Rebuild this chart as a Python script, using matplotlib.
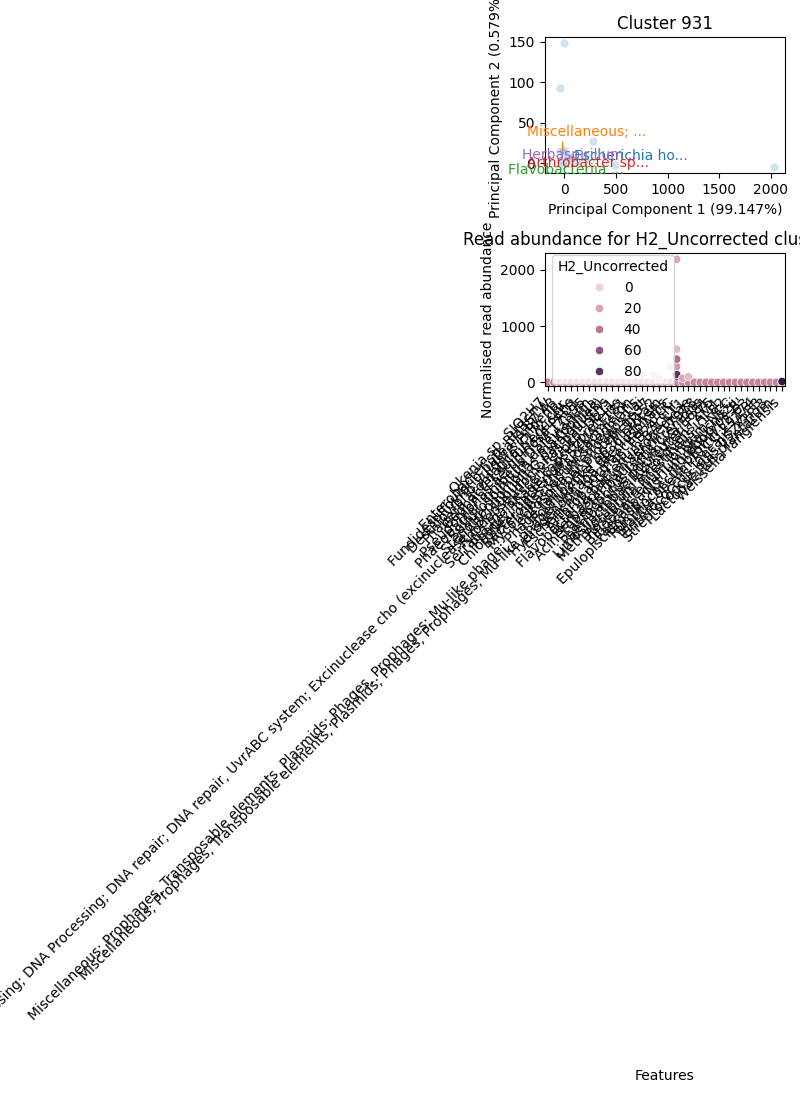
import matplotlib
matplotlib.use("Agg")
import matplotlib.pyplot as plt
import seaborn as sns
import pandas as pd

# ---------------- data: PCA panel ----------------
pc1 = [0, -42, 281, 491, 2032, -42, 0, -15, -30, 20, 60, 120, 200, -10, 40]
pc2 = [148, 93, 27, -2, -5, 15, 16, 14, 4, 2, 6, 3, 5, -2, 9]

annot_texts = ["Escherichia ho...", "Miscellaneous; ...", "Flavobacteriia ...",
               "Arthrobacter sp...", "Herbaspirillum ..."]
annot_colors = ["tab:blue", "tab:orange", "tab:green", "tab:red", "tab:purple"]
annot_x = [648, 215, 16, 230, 170]
annot_y = [9, 38, -8, 0, 10]
misc_point = (-15, 16)

# ---------------- data: abundance panel ----------------
features = [
    "Okenia sp. SIO2H7",
    "Enterobacter sp. RHBSTW",
    "Fundidesulfovibrio putealis B7-43",
    "Desulfovibrio vulgaris Hildenb.",
    "Thauera aromatica K172 chr.",
    "Geobacter sulfurreducens",
    "Pseudomonas aeruginosa PAO1",
    "Phaeobacter inhibens DSM 17395",
    "Sulfurospirillum deleyianum",
    "Stenotrophomonas maltophilia",
    "DNA Processing; DNA Processing; DNA repair; DNA repair, UvrABC system; "
    "Excinuclease cho (excinuclease ABC subunit C paralogues)",
    "Rhodopseudomonas palustris",
    "Serratia marcescens subsp. Db11",
    "Phage; Phage capsid proteins",
    "Chloroflexi bacterium SZUA-1181",
    "Bacteroides thetaiotaomicron",
    "Mycolicibacterium smegmatis",
    "Leptospira interrogans Lai",
    "Miscellaneous; Prophages, Transposable elements, Plasmids; Phages, "
    "Prophages; Mu-like phage; Phage tail fiber protein gp37",
    "Polaribacter sp. MED152",
    "Miscellaneous; Prophages, Transposable elements, Plasmids; Phages, "
    "Prophages; Mu-like phage; Mu-like gp36 protein",
    "Hydrogenophaga taeniospiralis",
    "Escherichia hormaechei ATCC",
    "Arthrobacter sp. FB24 chr.",
    "Flavobacteriia bacterium BACL11",
    "Herbaspirillum seropedicae",
    "Acinetobacter baumannii 17978",
    "Lactococcus lactis cremoris",
    "Paenibacillus polymyxa E681",
    "Limosilactobacillus reuteri F275",
    "Methylorubrum extorquens AM1",
    "Roseburia intestinalis L1-82",
    "Bifidobacterium longum NCC",
    "Faecalibacterium prausnitzii",
    "Epulopiscium sp. 'N.t. morphotype B'",
    "Ruminococcus bromii L2-63",
    "Blautia obeum ATCC 29174",
    "Enterococcus faecalis V583",
    "Streptococcus suis 05ZYH33",
    "Lactobacillus plantarum",
    "Weissella fangiensis",
]

# H2_Uncorrected value of each sample (drawing order)
samples_h2 = [0, 10, 18, 24, 45, 58, 66, 80, 95, 33]

# non-zero abundances: feature index -> {sample H2 value: abundance}
peaks = {
    16: {0: 140},
    18: {0: 130},
    19: {10: 60},
    21: {10: 270},
    22: {24: 280, 10: 590, 45: 413, 66: 100, 80: 140, 18: 2189},
    23: {18: 70},
    24: {10: 100},
    40: {95: 15},
}

# ---------------- build long-form table ----------------
rows = []
for h in samples_h2:
    for i in range(len(features)):
        if i in peaks and h in peaks[i]:
            continue
        rows.append({"idx": i, "value": 0.0, "H2_Uncorrected": h})
for i, d in peaks.items():
    for h, v in d.items():
        rows.append({"idx": i, "value": v, "H2_Uncorrected": h})
df = pd.DataFrame(rows)

# ---------------- figure ----------------
fig = plt.figure(figsize=(8, 11), dpi=100)
ax1 = fig.add_axes([0.68125, 0.84245, 0.3, 0.12364])
ax2 = fig.add_axes([0.68125, 0.64936, 0.3, 0.12036])

# PCA panel
sns.scatterplot(x=pc1, y=pc2, ax=ax1, color="tab:blue", alpha=0.2)
ax1.set_xlim(-187, 2137)
ax1.set_ylim(-12.6, 155.5)
for t, c, x, y in zip(annot_texts, annot_colors, annot_x, annot_y):
    if t.startswith("Miscellaneous"):
        ax1.annotate(t, xy=misc_point, xytext=(x, y), color=c,
                     ha="center", va="center", fontsize=10,
                     arrowprops=dict(arrowstyle="-", color=c, lw=1,
                                     relpos=(0.3, 0.0), shrinkA=0, shrinkB=0))
    else:
        ax1.text(x, y, t, color=c, ha="center", va="center", fontsize=10)
ax1.set_title("Cluster 931")
ax1.set_xlabel("Principal Component 1 (99.147%)")
ax1.set_ylabel("Principal Component 2 (0.579%)")

# Abundance panel
sns.scatterplot(data=df, x="idx", y="value", hue="H2_Uncorrected", ax=ax2)
sns.move_legend(ax2, "center left")
ax2.set_xlim(-0.5, len(features) - 0.5)
ax2.set_ylim(-60, 2295)
ax2.set_xticks(range(len(features)))
ax2.set_xticklabels(features, rotation=45, ha="right")
ax2.set_title("Read abundance for H2_Uncorrected cluster 931")
ax2.set_ylabel("Normalised read abundance")
ax2.set_xlabel("Features")

fig.savefig("out.png", dpi=100)
